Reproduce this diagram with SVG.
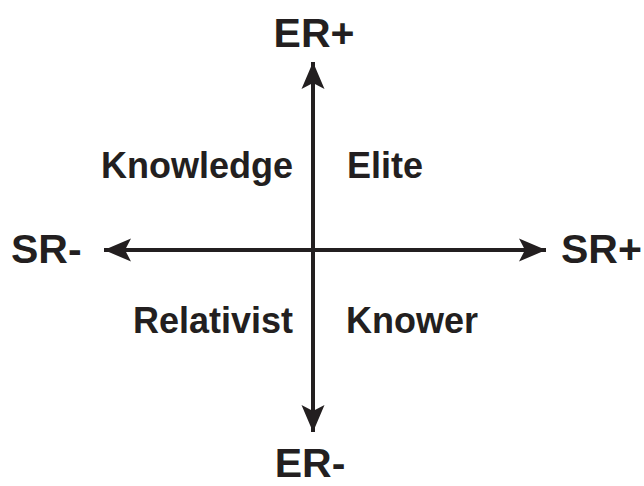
<svg xmlns="http://www.w3.org/2000/svg" width="644" height="486" viewBox="0 0 644 486">
<style>
.t{font-family:"Liberation Sans",Arial,sans-serif;font-weight:bold;fill:#231f20}
.ax{font-size:41px}
.q{font-size:36px}
.ln{stroke:#231f20;stroke-width:4;fill:none}
</style>
<defs>
<marker id="ah" markerUnits="userSpaceOnUse" markerWidth="30" markerHeight="26" viewBox="-27 -13 30 26" refX="0" refY="0" orient="auto">
<path d="M0,0 L-27,-11.5 L-21,0 L-27,11.5 Z" fill="#231f20"/>
</marker>
</defs>
<rect width="644" height="486" fill="#fff"/>
<g id="connectors">
<line class="ln" x1="313" y1="250" x2="313" y2="62" marker-end="url(#ah)"/>
<line class="ln" x1="313" y1="250" x2="313" y2="432" marker-end="url(#ah)"/>
<line class="ln" x1="313" y1="250" x2="104" y2="250" marker-end="url(#ah)"/>
<line class="ln" x1="313" y1="250" x2="546" y2="250" marker-end="url(#ah)"/>
</g>
<g id="er-plus"><text class="t ax" x="314" y="47" text-anchor="middle">ER+</text></g>
<g id="er-minus"><text class="t ax" x="310" y="477" text-anchor="middle">ER-</text></g>
<g id="sr-minus"><text class="t ax" x="11" y="263">SR-</text></g>
<g id="sr-plus"><text class="t ax" x="561" y="263">SR+</text></g>
<g id="knowledge"><text class="t q" x="293" y="178" text-anchor="end">Knowledge</text></g>
<g id="elite"><text class="t q" x="347" y="178">Elite</text></g>
<g id="relativist"><text class="t q" x="293" y="333" text-anchor="end">Relativist</text></g>
<g id="knower"><text class="t q" x="346" y="333">Knower</text></g>
</svg>
